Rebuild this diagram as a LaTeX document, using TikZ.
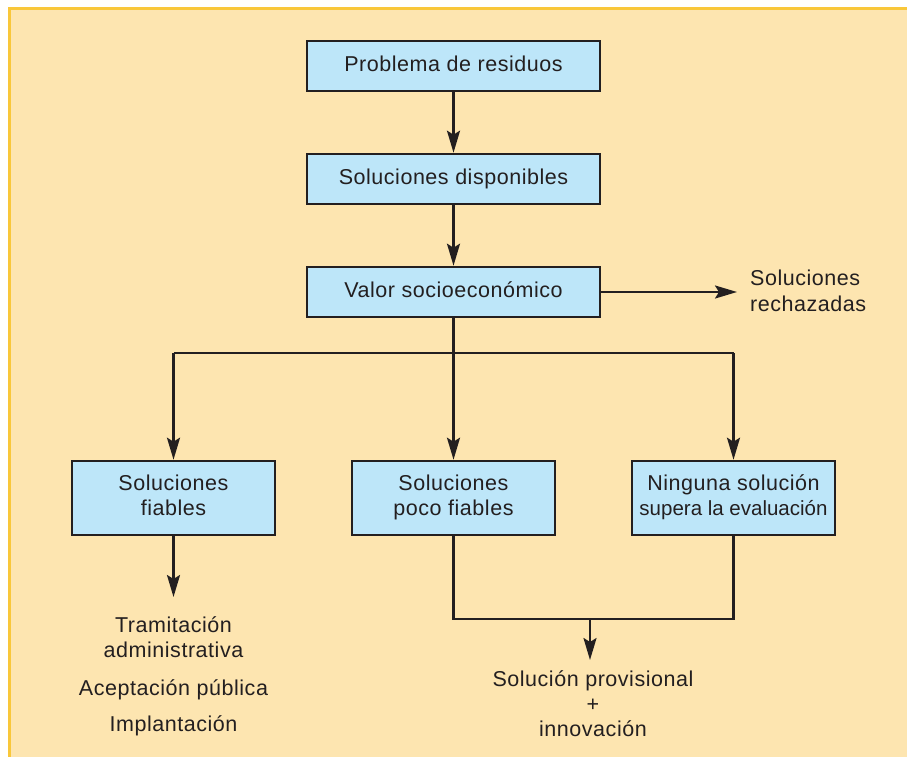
\documentclass[tikz,border=0pt]{standalone}
\usepackage{fontspec}
\setmainfont{Liberation Sans}[LetterSpace=2.5]
\newfontfamily\plainface{Liberation Sans}
\usetikzlibrary{arrows.meta}
\definecolor{ink}{HTML}{231F20}
\definecolor{panel}{HTML}{FDE5B0}
\definecolor{rim}{HTML}{F9C73A}
\definecolor{boxblue}{HTML}{BDE6F9}

\begin{document}
\begin{tikzpicture}[x=1pt,y=-1pt,
  every node/.style={font=\fontsize{21.5}{25}\selectfont, text=ink},
  boxbase/.style={draw=ink, line width=2.6pt, fill=boxblue, inner sep=0pt},
  stepbox/.style={boxbase, minimum width=293pt, minimum height=50pt,
    text height=15.5pt, text depth=4.5pt},
  outbox/.style={boxbase, minimum width=203pt, minimum height=74pt, align=center},
  link/.style={draw=ink, line width=2.4pt},
  flow/.style={link, -{Stealth[length=22pt,width=13pt,inset=4pt]}},
  note/.style={anchor=base, inner sep=0pt},
]
\useasboundingbox (0,0) rectangle (907,756);
% panel with its rim on the top and left edges
\fill[white] (0,0) rectangle (907,756);
\fill[panel] (8,7) rectangle (912,760);
\draw[rim, line width=2.6pt] (9.3,760) -- (9.3,8.3) -- (912,8.3);

% main column
\node[stepbox] (p) at (453.5,66) {Problema de residuos};
\node[stepbox] (d) at (453.5,179) {Soluciones disponibles};
\node[stepbox] (v) at (453.5,292) {Valor socioeconómico};

\draw[flow] (p.south) -- (d.north);
\draw[flow] (d.south) -- (v.north);

% rejected branch
\coordinate (rj) at (737,292);
\draw[flow] (v.east) -- (rj);
\node[note, anchor=base west] (r1) at (750,285) {Soluciones};
\node[note, anchor=base west] (r2) at (750,311) {rechazadas};

% three outcomes
\node[outbox] (fi) at (173.5,498) {\strut Soluciones\\fiables\strut};
\node[outbox] (pf) at (453.5,498) {\strut Soluciones\\poco fiables\strut};
\node[outbox] (ns) at (733.5,498) {\strut Ninguna solución\\{\plainface\fontsize{20.5}{25}\selectfont supera la evaluación\strut}};

\coordinate (jl) at (173.5,353);
\coordinate (jr) at (733.5,353);
\draw[link] (v.south) -- (v.south |- jl);
\draw[link] (jl) -- (jr);
\draw[flow] (jl) -- (fi.north);
\draw[flow] (v.south |- jl) -- (pf.north);
\draw[flow] (jr) -- (ns.north);

% reliable solutions path
\coordinate (fe) at (173.5,597);
\draw[flow] (fi.south) -- (fe);
\node[note] (t1) at (173.5,632) {Tramitación};
\node[note] (t2) at (173.5,657.5) {administrativa};
\node[note] (t3) at (173.5,695) {Aceptación pública};
\node[note] (t4) at (173.5,731.5) {Implantación};

% provisional solution path
\coordinate (mj) at (590,619);
\coordinate (pe) at (590,660);
\draw[link] (pf.south) |- (mj) -| (ns.south);
\draw[flow] (mj) -- (pe);
\node[note] (s1) at (593,686.7) {Solución provisional};
\node[note] (s2) at (593,711) {+};
\node[note] (s3) at (593,736.7) {innovación};
\end{tikzpicture}
\end{document}
